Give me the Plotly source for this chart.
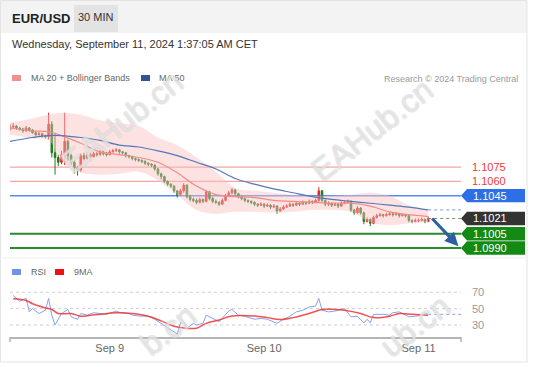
import plotly.graph_objects as go

W, H = 534, 367


def px(x):
    return x / W


def py(y):
    return 1 - y / H


# ---------------- data ----------------
first_open = 1.1115
closes = [1.1117, 1.1118, 1.1116, 1.1115, 1.1113, 1.1116, 1.1114, 1.1111, 1.1109, 1.1110,
          1.1108, 1.1107, 1.1120, 1.1090, 1.1085, 1.1080, 1.1088, 1.1102, 1.1087, 1.1080,
          1.1074, 1.1072, 1.1087, 1.1084, 1.1088, 1.1086, 1.1089, 1.1088, 1.1091, 1.1089,
          1.1088, 1.1091, 1.1092, 1.1093, 1.1091, 1.1090, 1.1087, 1.1086, 1.1084, 1.1083,
          1.1082, 1.1081, 1.1079, 1.1078, 1.1077, 1.1073, 1.1068, 1.1065, 1.1060, 1.1057,
          1.1055, 1.1050, 1.1046, 1.1050, 1.1056, 1.1044, 1.1041, 1.1040, 1.1038, 1.1041,
          1.1039, 1.1049, 1.1042, 1.1039, 1.1038, 1.1036, 1.1040, 1.1045, 1.1048, 1.1051,
          1.1047, 1.1044, 1.1042, 1.1040, 1.1039, 1.1038, 1.1036, 1.1035, 1.1036, 1.1034,
          1.1035, 1.1033, 1.1034, 1.1029, 1.1031, 1.1033, 1.1034, 1.1036, 1.1035, 1.1037,
          1.1036, 1.1038, 1.1037, 1.1039, 1.1038, 1.1040, 1.1050, 1.1040, 1.1036, 1.1037,
          1.1035, 1.1036, 1.1034, 1.1037, 1.1038, 1.1039, 1.1030, 1.1027, 1.1032, 1.1027,
          1.1018, 1.1020, 1.1016, 1.1022, 1.1024, 1.1025, 1.1024, 1.1025, 1.1026, 1.1025,
          1.1026, 1.1024, 1.1025, 1.1024, 1.1019, 1.1018, 1.1019, 1.1019, 1.1020, 1.1018,
          1.1021]
highs = [1.1120, 1.1121, 1.1119, 1.1117, 1.1116, 1.1118, 1.1117, 1.1115, 1.1112, 1.1112,
         1.1111, 1.1109, 1.1132, 1.1123, 1.1111, 1.1088, 1.1092, 1.1132, 1.1104, 1.1089,
         1.1082, 1.1076, 1.1089, 1.1090, 1.1091, 1.1090, 1.1091, 1.1091, 1.1093, 1.1092,
         1.1091, 1.1093, 1.1094, 1.1095, 1.1094, 1.1092, 1.1091, 1.1088, 1.1087, 1.1085,
         1.1084, 1.1083, 1.1082, 1.1080, 1.1079, 1.1078, 1.1074, 1.1069, 1.1066, 1.1061,
         1.1058, 1.1056, 1.1051, 1.1052, 1.1058, 1.1057, 1.1046, 1.1043, 1.1042, 1.1043,
         1.1042, 1.1051, 1.1050, 1.1044, 1.1041, 1.1039, 1.1042, 1.1047, 1.1050, 1.1053,
         1.1052, 1.1048, 1.1045, 1.1043, 1.1041, 1.1040, 1.1039, 1.1037, 1.1038, 1.1037,
         1.1037, 1.1036, 1.1036, 1.1035, 1.1033, 1.1035, 1.1036, 1.1038, 1.1037, 1.1039,
         1.1038, 1.1040, 1.1039, 1.1041, 1.1040, 1.1042, 1.1054, 1.1051, 1.1041, 1.1039,
         1.1038, 1.1038, 1.1037, 1.1039, 1.1040, 1.1041, 1.1040, 1.1031, 1.1034, 1.1033,
         1.1028, 1.1022, 1.1021, 1.1024, 1.1026, 1.1027, 1.1026, 1.1027, 1.1028, 1.1027,
         1.1028, 1.1027, 1.1026, 1.1026, 1.1025, 1.1020, 1.1021, 1.1021, 1.1022, 1.1021,
         1.1023]
lows = [1.1113, 1.1115, 1.1114, 1.1113, 1.1111, 1.1112, 1.1112, 1.1110, 1.1107, 1.1108,
        1.1106, 1.1105, 1.1104, 1.1085, 1.1067, 1.1076, 1.1078, 1.1077, 1.1082, 1.1077,
        1.1068, 1.1066, 1.1070, 1.1082, 1.1083, 1.1084, 1.1085, 1.1086, 1.1087, 1.1087,
        1.1086, 1.1087, 1.1090, 1.1091, 1.1089, 1.1088, 1.1085, 1.1084, 1.1082, 1.1081,
        1.1080, 1.1079, 1.1077, 1.1076, 1.1075, 1.1071, 1.1066, 1.1062, 1.1058, 1.1055,
        1.1053, 1.1048, 1.1043, 1.1045, 1.1048, 1.1042, 1.1039, 1.1038, 1.1036, 1.1037,
        1.1037, 1.1038, 1.1040, 1.1037, 1.1036, 1.1034, 1.1035, 1.1039, 1.1044, 1.1046,
        1.1045, 1.1042, 1.1040, 1.1038, 1.1037, 1.1036, 1.1034, 1.1033, 1.1034, 1.1032,
        1.1033, 1.1031, 1.1032, 1.1026, 1.1028, 1.1030, 1.1032, 1.1033, 1.1033, 1.1034,
        1.1034, 1.1035, 1.1035, 1.1036, 1.1036, 1.1037, 1.1038, 1.1038, 1.1034, 1.1034,
        1.1033, 1.1034, 1.1032, 1.1033, 1.1036, 1.1037, 1.1028, 1.1025, 1.1026, 1.1025,
        1.1015, 1.1017, 1.1013, 1.1015, 1.1021, 1.1023, 1.1022, 1.1023, 1.1024, 1.1023,
        1.1024, 1.1022, 1.1023, 1.1022, 1.1017, 1.1016, 1.1017, 1.1017, 1.1018, 1.1016,
        1.1017]
opens = [first_open] + closes[:-1]
candle_idx = list(range(len(closes)))

ma_idx = [0, 7, 12, 16, 22, 28, 34, 40, 46, 52, 58, 64, 70, 76, 82, 88, 94, 100, 106, 112, 118, 124, 130]
ma50 = [1.1102, 1.1106, 1.1108, 1.1108, 1.1106, 1.1103, 1.1098, 1.1096, 1.1092, 1.1087, 1.1080, 1.1073,
        1.1063, 1.1057, 1.1052, 1.1048, 1.1044, 1.1041, 1.1039, 1.1037, 1.1035, 1.1033, 1.1030]
ma20 = [1.1116, 1.1113, 1.1112, 1.1108, 1.1100, 1.1091, 1.1088, 1.1085, 1.1080, 1.1069, 1.1055, 1.1046,
        1.1044, 1.1043, 1.1040, 1.1039, 1.1038, 1.1037, 1.1037, 1.1034, 1.1028, 1.1025, 1.1023]
bb_upper = [1.1122, 1.1126, 1.1130, 1.1132, 1.1130, 1.1124, 1.1121, 1.1118, 1.1106, 1.1098, 1.1085, 1.1070,
            1.1053, 1.1050, 1.1048, 1.1046, 1.1045, 1.1045, 1.1046, 1.1048, 1.1045, 1.1035, 1.1030]
bb_lower = [1.1109, 1.1105, 1.1103, 1.1082, 1.1069, 1.1067, 1.1068, 1.1070, 1.1061, 1.1046, 1.1030, 1.1026,
            1.1028, 1.1028, 1.1027, 1.1028, 1.1030, 1.1030, 1.1028, 1.1017, 1.1014, 1.1016, 1.1017]

rsi_idx = [1, 3, 5, 6, 7, 9, 11, 12, 13, 14, 16, 18, 19, 21, 22, 24, 26, 28, 30, 33,
           34, 37, 38, 40, 43, 45, 47, 49, 50, 52, 53, 54, 55, 57, 58, 60, 61, 63, 65, 68,
           69, 71, 73, 76, 78, 80, 83, 85, 87, 89, 91, 93, 95, 96, 97, 99, 101, 104, 106, 108,
           110, 111, 112, 113, 116, 118, 119, 121, 124, 126, 128, 129, 130]
rsi_val = [66, 59, 62.5, 46, 50, 44, 48, 62.5, 42, 30, 44, 49, 40, 37, 44, 42, 45, 44, 43, 47,
           45.5, 44, 42, 41, 40.7, 37, 32, 26, 24, 19, 32.5, 34, 26, 32, 30, 32, 42, 38, 34, 47,
           49, 42, 40.7, 37, 38, 37, 32, 37, 40.7, 46, 48, 52, 53, 62.5, 48, 46, 47, 50, 40, 40.7,
           32.5, 37, 32.5, 43, 43, 42, 45, 46, 40, 40.7, 42, 45, 43]
rsi_ma_idx = [1, 5, 7, 10, 13, 15, 19, 22, 25, 28, 33, 38, 43, 47, 51, 55, 58, 61, 65, 69,
              76, 80, 84, 88, 93, 97, 101, 104, 109, 113, 118, 121, 125, 130]
rsi_ma_val = [62, 60, 56, 52, 49, 44, 44, 40.7, 42, 43, 45, 44, 40.7, 35, 28.5, 26, 26, 32, 36, 41,
              41, 39, 36.7, 39, 44, 49, 49, 48, 44, 39, 40.7, 44, 43, 42]
rsi_levels = [70, 50, 30]

resistances = [1.1075, 1.1060]
pivot = 1.1045
supports = [1.1005, 1.0990]
last_price = 1.1021

day_idx = [31, 79, 127]
day_labels = ["Sep 9", "Sep 10", "Sep 11"]

# ---------------- layout geometry ----------------
X_END = 140.2
Y_RANGE = [1.09827, 1.11506]
PRICE_TOP, PRICE_BOT = 95, 255
RSI_RANGE = [15.3, 100.9]
RSI_TOP, RSI_BOT = 267, 337
FONT = "Liberation Sans, Arial, sans-serif"
price_per_px = (Y_RANGE[1] - Y_RANGE[0]) / (PRICE_BOT - PRICE_TOP)

fig = go.Figure()

# Bollinger band fill
fig.add_trace(go.Scatter(x=ma_idx, y=bb_upper, mode="lines", line=dict(width=0, shape="spline", color="rgba(0,0,0,0)"),
                         xaxis="x", yaxis="y", hoverinfo="skip"))
fig.add_trace(go.Scatter(x=ma_idx, y=bb_lower, mode="lines", line=dict(width=0, shape="spline", color="rgba(0,0,0,0)"),
                         fill="tonexty", fillcolor="rgba(250,190,190,0.45)", xaxis="x", yaxis="y", hoverinfo="skip"))

# candles
fig.add_trace(go.Candlestick(
    x=candle_idx, open=opens, high=highs, low=lows, close=closes,
    increasing=dict(line=dict(color="#e32626", width=1), fillcolor="#e32626"),
    decreasing=dict(line=dict(color="#1f7a1f", width=1), fillcolor="#1f7a1f"),
    whiskerwidth=0, xaxis="x", yaxis="y", hoverinfo="skip"))

# moving averages
fig.add_trace(go.Scatter(x=ma_idx, y=ma20, mode="lines", line=dict(color="#f28a8a", width=1.2, shape="spline"),
                         xaxis="x", yaxis="y"))
fig.add_trace(go.Scatter(x=ma_idx, y=ma50, mode="lines", line=dict(color="#5577b8", width=1.2, shape="spline"),
                         xaxis="x", yaxis="y"))
# dotted extensions
fig.add_trace(go.Scatter(x=[ma_idx[-1], X_END], y=[ma50[-1], ma50[-1]], mode="lines",
                         line=dict(color="#7a9ad6", width=1, dash="dot"), xaxis="x", yaxis="y"))
fig.add_trace(go.Scatter(x=[candle_idx[-1], X_END], y=[last_price, last_price], mode="lines",
                         line=dict(color="#888888", width=1, dash="dot"), xaxis="x", yaxis="y"))

# RSI
fig.add_trace(go.Scatter(x=rsi_idx, y=rsi_val, mode="lines", line=dict(color="#85a3f0", width=1),
                         xaxis="x2", yaxis="y2"))
fig.add_trace(go.Scatter(x=rsi_ma_idx, y=rsi_ma_val, mode="lines",
                         line=dict(color="rgba(240,50,50,0.85)", width=1.5, shape="spline"),
                         xaxis="x2", yaxis="y2"))
fig.add_trace(go.Scatter(x=[rsi_idx[-1], X_END], y=[rsi_val[-1], rsi_val[-1]], mode="lines",
                         line=dict(color="#85a3f0", width=1, dash="dot"), xaxis="x2", yaxis="y2"))

shapes = []
annotations = []

# outer frame & header
shapes.append(dict(type="rect", xref="paper", yref="paper", x0=px(0), x1=px(527), y0=py(33), y1=py(0),
                   fillcolor="#f3f3f3", line=dict(width=0), layer="below"))
shapes.append(dict(type="rect", xref="paper", yref="paper", x0=px(0.5), x1=px(527), y0=py(362), y1=py(0.5),
                   line=dict(color="#e4e4e4", width=1)))
shapes.append(dict(type="rect", xref="paper", yref="paper", x0=px(74), x1=px(118), y0=py(32), y1=py(5),
                   fillcolor="#e3e3e3", line=dict(width=0)))
shapes.append(dict(type="line", xref="paper", yref="paper", x0=px(0), x1=px(527), y0=py(258), y1=py(258),
                   line=dict(color="#f0f0f0", width=1)))

annotations.append(dict(xref="paper", yref="paper", x=px(10), y=py(18), text="<b>EUR/USD</b>", showarrow=False,
                        xanchor="left", yanchor="middle", font=dict(family=FONT, size=13, color="#222")))
annotations.append(dict(xref="paper", yref="paper", x=px(96), y=py(17.5), text="30 MIN", showarrow=False,
                        xanchor="center", yanchor="middle", font=dict(family=FONT, size=11, color="#333")))
annotations.append(dict(xref="paper", yref="paper", x=px(10), y=py(44), text="Wednesday, September 11, 2024 1:37:05 AM CET",
                        showarrow=False, xanchor="left", yanchor="middle", font=dict(family=FONT, size=11, color="#333")))

# legends
shapes.append(dict(type="rect", xref="paper", yref="paper", x0=px(12), x1=px(21), y0=py(81), y1=py(75),
                   fillcolor="#f29090", line=dict(width=0)))
annotations.append(dict(xref="paper", yref="paper", x=px(29), y=py(78), text="MA 20 + Bollinger Bands", showarrow=False,
                        xanchor="left", yanchor="middle", font=dict(family=FONT, size=9, color="#666")))
shapes.append(dict(type="rect", xref="paper", yref="paper", x0=px(141), x1=px(150), y0=py(81), y1=py(75),
                   fillcolor="#2f5597", line=dict(width=0)))
annotations.append(dict(xref="paper", yref="paper", x=px(157), y=py(78), text="MA 50", showarrow=False,
                        xanchor="left", yanchor="middle", font=dict(family=FONT, size=9, color="#666")))
annotations.append(dict(xref="paper", yref="paper", x=px(520), y=py(79), text="Research © 2024 Trading Central",
                        showarrow=False, xanchor="right", yanchor="middle", font=dict(family=FONT, size=9, color="#9a9a9a")))

shapes.append(dict(type="rect", xref="paper", yref="paper", x0=px(12), x1=px(21), y0=py(275), y1=py(269),
                   fillcolor="#6f93ea", line=dict(width=0)))
annotations.append(dict(xref="paper", yref="paper", x=px(29), y=py(272), text="RSI", showarrow=False,
                        xanchor="left", yanchor="middle", font=dict(family=FONT, size=9, color="#666")))
shapes.append(dict(type="rect", xref="paper", yref="paper", x0=px(55), x1=px(64), y0=py(275), y1=py(269),
                   fillcolor="#ee1111", line=dict(width=0)))
annotations.append(dict(xref="paper", yref="paper", x=px(72), y=py(272), text="9MA", showarrow=False,
                        xanchor="left", yanchor="middle", font=dict(family=FONT, size=9, color="#666")))

# level lines
for r in resistances:
    shapes.append(dict(type="line", xref="paper", yref="y", x0=px(10), x1=px(461), y0=r, y1=r,
                       line=dict(color="#f6a5a5", width=1.3), layer="below"))
    annotations.append(dict(xref="x3", yref="y", x=470, y=r, text=f"{r:.4f}", showarrow=False,
                            xanchor="left", yanchor="middle", font=dict(family=FONT, size=11, color="#f03a3a")))
shapes.append(dict(type="line", xref="paper", yref="y", x0=px(10), x1=px(461), y0=pivot, y1=pivot,
                   line=dict(color="#5a8cef", width=1.5), layer="below"))
for s in supports:
    shapes.append(dict(type="line", xref="paper", yref="y", x0=px(10), x1=px(461), y0=s, y1=s,
                       line=dict(color="#2a8a2a", width=2), layer="below"))

hh = 6.7 * price_per_px


def tag(price, color):
    path = (f"M 461,{price} L 467,{price + hh} L 525,{price + hh} L 525,{price - hh} "
            f"L 467,{price - hh} Z")
    shapes.append(dict(type="path", xref="x3", yref="y", path=path, fillcolor=color, line=dict(width=0)))
    annotations.append(dict(xref="x3", yref="y", x=471, y=price, text=f"{price:.4f}", showarrow=False,
                            xanchor="left", yanchor="middle", font=dict(family=FONT, size=11, color="white")))


tag(pivot, "#2f6fe6")
tag(last_price, "#333333")
for s in supports:
    tag(s, "#138a13")

# RSI grid + labels
for lv in rsi_levels:
    shapes.append(dict(type="line", xref="paper", yref="y2", x0=px(10), x1=px(461), y0=lv, y1=lv,
                       line=dict(color="#cfcfcf", width=1, dash="dot"), layer="below"))
    annotations.append(dict(xref="x3", yref="y2", x=470, y=lv, text=str(lv), showarrow=False,
                            xanchor="left", yanchor="middle", font=dict(family=FONT, size=11, color="#999")))

# axis end ticks
for xe in (10, 461):
    shapes.append(dict(type="line", xref="paper", yref="paper", x0=px(xe), x1=px(xe), y0=py(337), y1=py(342),
                       line=dict(color="#b5b5b5", width=1.5)))

# forecast arrow
annotations.append(dict(xref="x", yref="y", x=139.4, y=1.0992, axref="x", ayref="y", ax=130.8, ay=1.10225,
                        text="", showarrow=True, arrowhead=2, arrowsize=0.9, arrowwidth=3, arrowcolor="#2d5fa3"))

# watermarks
wm_font = dict(family=FONT, size=32, color="rgba(255,255,255,0.35)",
               shadow="1px 0 0 #cccccc, -1px 0 0 #cccccc, 0 1px 0 #cccccc, 0 -1px 0 #cccccc")
for cx, cy, txt in [(122, 122, "EAHub.cn"), (372, 130, "EAHub.cn"), (168, 330, "b.cn"), (415, 326, "ub.cn")]:
    annotations.append(dict(xref="paper", yref="paper", x=px(cx), y=py(cy), text=txt, showarrow=False,
                            textangle=-38, xanchor="center", yanchor="middle", font=wm_font))

fig.update_layout(
    width=W, height=H, margin=dict(l=0, r=0, t=0, b=0, pad=0),
    paper_bgcolor="white", plot_bgcolor="rgba(0,0,0,0)", showlegend=False,
    xaxis=dict(domain=[px(10), px(461)], range=[0, X_END], visible=False, rangeslider=dict(visible=False),
               fixedrange=True),
    yaxis=dict(domain=[py(PRICE_BOT), py(PRICE_TOP)], range=Y_RANGE, visible=False, fixedrange=True),
    xaxis2=dict(domain=[px(10), px(461)], range=[0, X_END], anchor="y2", showgrid=False, zeroline=False,
                showline=True, linecolor="#b5b5b5", linewidth=1.5, ticks="", tickvals=day_idx, ticktext=day_labels,
                tickfont=dict(family=FONT, size=11, color="#666"), fixedrange=True),
    yaxis2=dict(domain=[py(RSI_BOT), py(RSI_TOP)], range=RSI_RANGE, visible=False, fixedrange=True),
    xaxis3=dict(domain=[px(460), px(528)], range=[460, 528], anchor="y", visible=False, fixedrange=True),
    shapes=shapes, annotations=annotations,
)

fig.write_html("out.html", config=dict(displayModeBar=False),
               post_script="document.body.style.margin='0';document.body.style.padding='0';")
